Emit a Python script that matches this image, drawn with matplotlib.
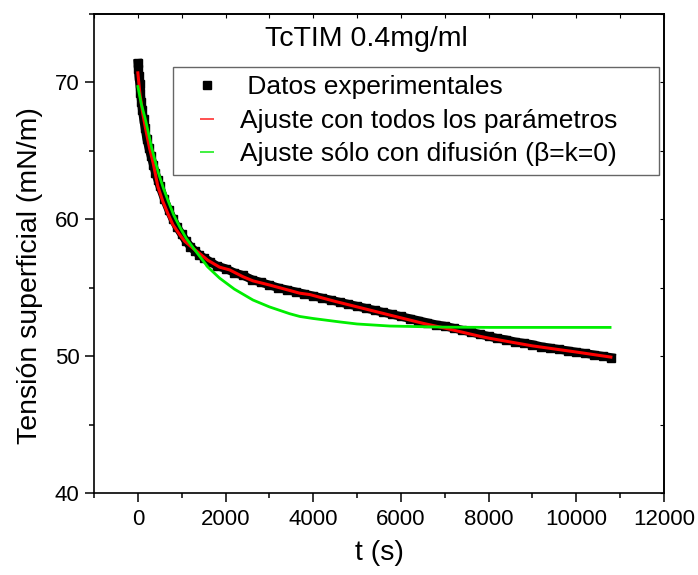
import matplotlib
matplotlib.use("Agg")
import matplotlib.pyplot as plt
from matplotlib.lines import Line2D
from matplotlib.ticker import MultipleLocator

plt.rcParams['font.family'] = ['Liberation Sans', 'DejaVu Sans']

t_data = [0, 10, 20, 40, 60, 80, 100, 130, 160, 200, 250, 300, 350, 400, 450, 500,
          600, 700, 800, 900, 1000, 1100, 1200, 1300, 1400, 1500, 1650, 1800, 2000,
          2200, 2400, 2600, 2800, 3000, 3200, 3400, 3600, 3800, 4000, 4200, 4400,
          4600, 4800, 5000, 5200, 5400, 5600, 5800, 6000, 6200, 6400, 6600, 6800,
          7000, 7200, 7400, 7600, 7800, 8000, 8200, 8400, 8600, 8800, 9000, 9200,
          9400, 9600, 9800, 10000, 10200, 10400, 10600, 10800]
y_data = [71.4, 71.0, 70.5, 69.9, 69.2, 68.6, 68.0, 67.3, 66.7, 65.9, 65.2, 64.6,
          64.0, 63.4, 62.9, 62.4, 61.5, 60.7, 60.0, 59.4, 58.9, 58.4, 58.0, 57.7,
          57.4, 57.2, 56.9, 56.6, 56.4, 56.1, 55.9, 55.6, 55.4, 55.2, 55.0, 54.85,
          54.7, 54.55, 54.4, 54.25, 54.1, 53.95, 53.8, 53.65, 53.5, 53.35, 53.2,
          53.05, 52.9, 52.75, 52.6, 52.45, 52.3, 52.2, 52.05, 51.9, 51.75, 51.6,
          51.45, 51.3, 51.2, 51.05, 50.95, 50.85, 50.7, 50.6, 50.5, 50.4, 50.3,
          50.2, 50.1, 50.0, 49.9]

# Fit with all parameters (red)
t_fit = [0, 50, 114, 190, 267, 350, 456, 571, 700, 800, 950, 1066, 1250, 1409,
         1600, 1865, 2094, 2400, 2626, 3000, 3463, 3692, 3920, 4500, 5000, 5747,
         6500, 7000, 7801, 8030, 9000, 10000, 10788]
y_fit = [70.7, 69.1, 67.7, 66.4, 65.2, 64.1, 62.4, 61.3, 60.3, 59.6, 58.9, 58.4,
         57.9, 57.5, 57.0, 56.5, 56.3, 55.8, 55.5, 55.2, 54.8, 54.6, 54.5,
         54.0, 53.6, 53.0, 52.4, 52.05, 51.45, 51.3, 50.75, 50.3, 49.93]

# Fit with diffusion only (green)
t_dif = [0, 80, 164, 250, 317, 400, 468, 580, 696, 820, 963, 1105, 1266, 1409,
         1600, 1865, 2200, 2626, 3000, 3463, 3692, 4000, 4605, 5000, 5747, 6500,
         7000, 8030, 9000, 10000, 10770]
y_dif = [69.7, 68.4, 67.4, 66.2, 65.2, 64.2, 63.4, 62.3, 61.3, 60.3, 59.4, 58.6,
         57.9, 57.3, 56.5, 55.7, 54.9, 54.1, 53.6, 53.1, 52.9, 52.75, 52.5, 52.35,
         52.2, 52.15, 52.12, 52.1, 52.1, 52.1, 52.1]

labels = [" Datos experimentales", "Ajuste con todos los parámetros",
          "Ajuste sólo con difusión (β=k=0)"]
title = "TcTIM 0.4mg/ml"

W, H = 698, 575
fig = plt.figure(figsize=(W / 100, H / 100), dpi=100)
ax = fig.add_axes([94 / W, 1 - 493 / H, 570 / W, 479 / H])

ax.plot(t_data, y_data, color='black', lw=6.2, marker='s', ms=6.2,
        solid_joinstyle='miter', zorder=2)
ax.plot(t_fit, y_fit, color='#ff0000', lw=2.2, zorder=3)
ax.plot(t_dif, y_dif, color='#00ee00', lw=2.0, zorder=4)

ax.set_xlim(-1000, 12000)
ax.set_ylim(40, 75)
ax.set_xticks([0, 2000, 4000, 6000, 8000, 10000, 12000])
ax.set_yticks([40, 50, 60, 70])
ax.xaxis.set_minor_locator(MultipleLocator(1000))
ax.yaxis.set_minor_locator(MultipleLocator(5))

for s in ax.spines.values():
    s.set_linewidth(1.2)

ax.tick_params(axis='both', which='major', direction='out', length=6.5, width=1.1,
               labelsize=16, top=False, right=False)
ax.tick_params(axis='x', which='major', pad=5)
ax.tick_params(axis='y', which='major', pad=4)
ax.tick_params(axis='both', which='minor', direction='out', length=3.5, width=1.1,
               top=False, right=False)

# small inward ticks on top and right axes
sec_x = ax.secondary_xaxis('top')
sec_x.set_xticks([0, 2000, 4000, 6000, 8000, 10000, 12000])
sec_x.xaxis.set_minor_locator(MultipleLocator(1000))
sec_x.tick_params(which='both', direction='in', length=3, width=0.8, labeltop=False)
sec_x.spines['top'].set_linewidth(1.2)
sec_y = ax.secondary_yaxis('right')
sec_y.set_yticks([40, 50, 60, 70])
sec_y.yaxis.set_minor_locator(MultipleLocator(5))
sec_y.tick_params(which='both', direction='in', length=3, width=0.8, labelright=False)
sec_y.spines['right'].set_linewidth(1.2)

ax.set_xlabel("t (s)", fontsize=20.5, labelpad=7)
fig.text(30 / W, 1 - 276 / H, "Tensión superficial (mN/m)", rotation=90,
         fontsize=20.5, ha='center', va='center')

ax.text((366 - 94) / 570, (493 - 39) / 479, title, transform=ax.transAxes,
        fontsize=20.5, ha='center', va='center')

handles = [
    Line2D([], [], color='black', marker='s', ms=6, ls='none'),
    Line2D([], [], color='#ff5050', marker='_', ms=9.5, mew=1.4, ls='none'),
    Line2D([], [], color='#40f040', marker='_', ms=9.5, mew=1.4, ls='none'),
]
x0 = (173 - 94) / 570
x1 = (659 - 94) / 570
yb = (493 - 175) / 479
leg = ax.legend(handles, labels, loc='lower left',
                bbox_to_anchor=(x0, yb, x1 - x0, 0.2), mode='expand',
                borderaxespad=0, fontsize=19, frameon=True, fancybox=False,
                handlelength=1.92, handletextpad=0.29, labelspacing=0.36,
                borderpad=0.33)
leg.get_frame().set_edgecolor('#404040')
leg.get_frame().set_linewidth(1.0)

fig.savefig("out.png", dpi=100)
